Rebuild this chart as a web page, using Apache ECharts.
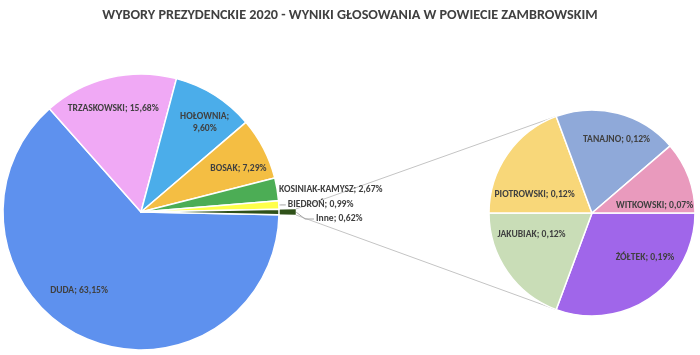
<!DOCTYPE html>
<html lang="pl">
<head>
<meta charset="UTF-8">
<title>Wybory prezydenckie 2020</title>
<style>html,body{margin:0;padding:0;background:#fff;}</style>
</head>
<body>
<div id="main" style="width:700px;height:355px;"></div>

<script src="https://cdn.jsdelivr.net/npm/echarts@6/dist/echarts.min.js"></script>

<script>
// dane - pierwszy (duzy) wykres
var mainNames = ['DUDA', 'TRZASKOWSKI', 'HOŁOWNIA', 'BOSAK', 'KOSINIAK-KAMYSZ', 'BIEDROŃ', 'Inne'];
var mainValues = [63.15, 15.68, 9.60, 7.29, 2.67, 0.99, 0.62];
var mainColors = ['#5e91ee', '#f0a9f5', '#4badea', '#f4be43', '#4cad55', '#ffff4a', '#2f5119'];

// dane - "Inne" rozbite na drugim wykresie
var subNames = ['ŻÓŁTEK', 'JAKUBIAK', 'PIOTROWSKI', 'TANAJNO', 'WITKOWSKI'];
var subValues = [0.19, 0.12, 0.12, 0.12, 0.07];
var subColors = ['#a066ea', '#c9ddb7', '#f8d779', '#8fa9d9', '#e99abd'];

var FONT = 'Carlito, "Liberation Sans", sans-serif';
var TXT = '#404040';

var mainCenter = [141, 212], mainR = 138, inneR = 155;
var subCenter = [592, 213], subR = 103;

// Inne ma byc wysrodkowane na poziomie
var inneIdx = mainNames.indexOf('Inne');
var mainStart = -mainValues[inneIdx] / 2 / 100 * 360;

function pct(v) {
    return v.toFixed(2).replace('.', ',') + '%';
}
function fmt(p) {
    // Excel zawinal HOŁOWNIA do dwoch linii
    return p.name + (p.name === 'HOŁOWNIA' ? ';\n' : '; ') + pct(p.value);
}
function polar(c, r, deg) { // stopnie zgodnie z zegarem od godz. 3
    var a = deg * Math.PI / 180;
    return [c[0] + r * Math.cos(a), c[1] + r * Math.sin(a)];
}

var labelStyle = {color: TXT, fontFamily: FONT, fontWeight: 'bold', fontSize: 9.6};

var mainData = mainNames.map(function (n, i) {
    var item = {name: n, value: mainValues[i], itemStyle: {color: mainColors[i]}};
    if (i === 4) {
        item.label = {show: true};
        item.labelLine = {show: false, length: 0, length2: 0};
    }
    if (i === 5) {
        item.label = {show: true};
        item.labelLine = {show: true, length: 2, length2: 5};
    }
    return item;
});
var mainLabelData = mainNames.map(function (n, i) {
    var item = {name: n, value: mainValues[i]};
    if (i < 4) item.label = {show: true};
    return item;
});
var inneData = mainNames.map(function (n, i) {
    return {name: n, value: mainValues[i],
        itemStyle: {color: i === inneIdx ? mainColors[i] : 'transparent', borderWidth: i === inneIdx ? 0.5 : 0}};
});
var subData = subNames.map(function (n, i) {
    return {name: n, value: subValues[i], itemStyle: {color: subColors[i]}};
});

// drobne przesuniecia etykiet (jak w Excelu)
var mainNudge = [[-15, -23], [-2, 6], [4, 5], [-2, 8]];
var subNudge = [[13, -13], [-3, -18], [0, 22], [7, -6], [-3, 17]];

// linie laczace
var inneA = mainValues[inneIdx] / 2 / 100 * 360;
var tip = polar(mainCenter, inneR, 0);
var p1 = polar(mainCenter, inneR, -inneA);
var p2 = polar(mainCenter, inneR, inneA);
var cum = 0, subTop, subBot;
subValues.forEach(function (v, i) {
    if (i === 0) subBot = polar(subCenter, subR, (cum + v) / 0.62 * 360);
    if (i === 2) subTop = polar(subCenter, subR, (cum + v) / 0.62 * 360);
    cum += v;
});
// odnosnik etykiety "Inne"
var inneBend = [tip[0] + 9, tip[1] + 7];
var inneEnd = [inneBend[0] + 9, inneBend[1]];

var myChart = echarts.init(document.getElementById('main'));

myChart.setOption({
    animation: false,
    title: {
        text: 'WYBORY PREZYDENCKIE 2020 - WYNIKI GŁOSOWANIA W POWIECIE ZAMBROWSKIM',
        left: 'center',
        top: 3,
        textStyle: {color: TXT, fontFamily: FONT, fontWeight: 'bold', fontSize: 14.2}
    },
    graphic: [
        {type: 'line', silent: true, shape: {x1: p1[0], y1: p1[1], x2: subTop[0], y2: subTop[1]},
            style: {stroke: '#c4c4c4', lineWidth: 1}},
        {type: 'line', silent: true, shape: {x1: p2[0], y1: p2[1], x2: subBot[0], y2: subBot[1]},
            style: {stroke: '#c4c4c4', lineWidth: 1}},
        {type: 'polyline', silent: true, shape: {points: [tip, inneBend, inneEnd]},
            style: {stroke: '#a6a6a6', lineWidth: 1, fill: null}},
        {type: 'text', silent: true, x: inneEnd[0] + 2, y: inneEnd[1],
            style: {text: fmt({name: mainNames[inneIdx], value: mainValues[inneIdx]}),
                fill: TXT, font: 'bold 9.6px ' + FONT, verticalAlign: 'middle', align: 'left'}}
    ],
    series: [
        {
            name: 'Inne',
            type: 'pie',
            silent: true,
            center: mainCenter,
            radius: inneR,
            startAngle: mainStart,
            clockwise: true,
            itemStyle: {borderColor: '#fff'},
            label: {show: false},
            labelLine: {show: false},
            data: inneData
        },
        {
            name: 'Wyniki',
            type: 'pie',
            silent: true,
            center: mainCenter,
            radius: mainR,
            startAngle: mainStart,
            clockwise: true,
            itemStyle: {borderColor: '#fff', borderWidth: 1.5},
            label: Object.assign({show: false, position: 'outside', formatter: fmt, distanceToLabelLine: 2}, labelStyle),
            labelLine: {lineStyle: {color: '#a6a6a6', width: 1}},
            data: mainData
        },
        {
            name: 'etykiety',
            type: 'pie',
            silent: true,
            center: mainCenter,
            radius: [mainR * 0.58, mainR],
            startAngle: mainStart,
            clockwise: true,
            itemStyle: {color: 'transparent'},
            label: Object.assign({show: false, position: 'inside', formatter: fmt, lineHeight: 12}, labelStyle),
            labelLayout: function (p) {
                var d = mainNudge[p.dataIndex] || [0, 0];
                return {dx: d[0], dy: d[1]};
            },
            data: mainLabelData
        },
        {
            name: 'Inne - szczegoly',
            type: 'pie',
            silent: true,
            center: subCenter,
            radius: subR,
            startAngle: 0,
            clockwise: true,
            itemStyle: {borderColor: '#fff', borderWidth: 1.5},
            label: {show: false},
            data: subData
        },
        {
            name: 'etykiety2',
            type: 'pie',
            silent: true,
            center: subCenter,
            radius: [subR * 0.3, subR],
            startAngle: 0,
            clockwise: true,
            itemStyle: {color: 'transparent'},
            label: Object.assign({show: true, position: 'inside', formatter: fmt}, labelStyle),
            labelLayout: function (p) {
                var d = subNudge[p.dataIndex] || [0, 0];
                return {dx: d[0], dy: d[1]};
            },
            data: subNames.map(function (n, i) { return {name: n, value: subValues[i]}; })
        }
    ]
});
</script>
</body>
</html>
